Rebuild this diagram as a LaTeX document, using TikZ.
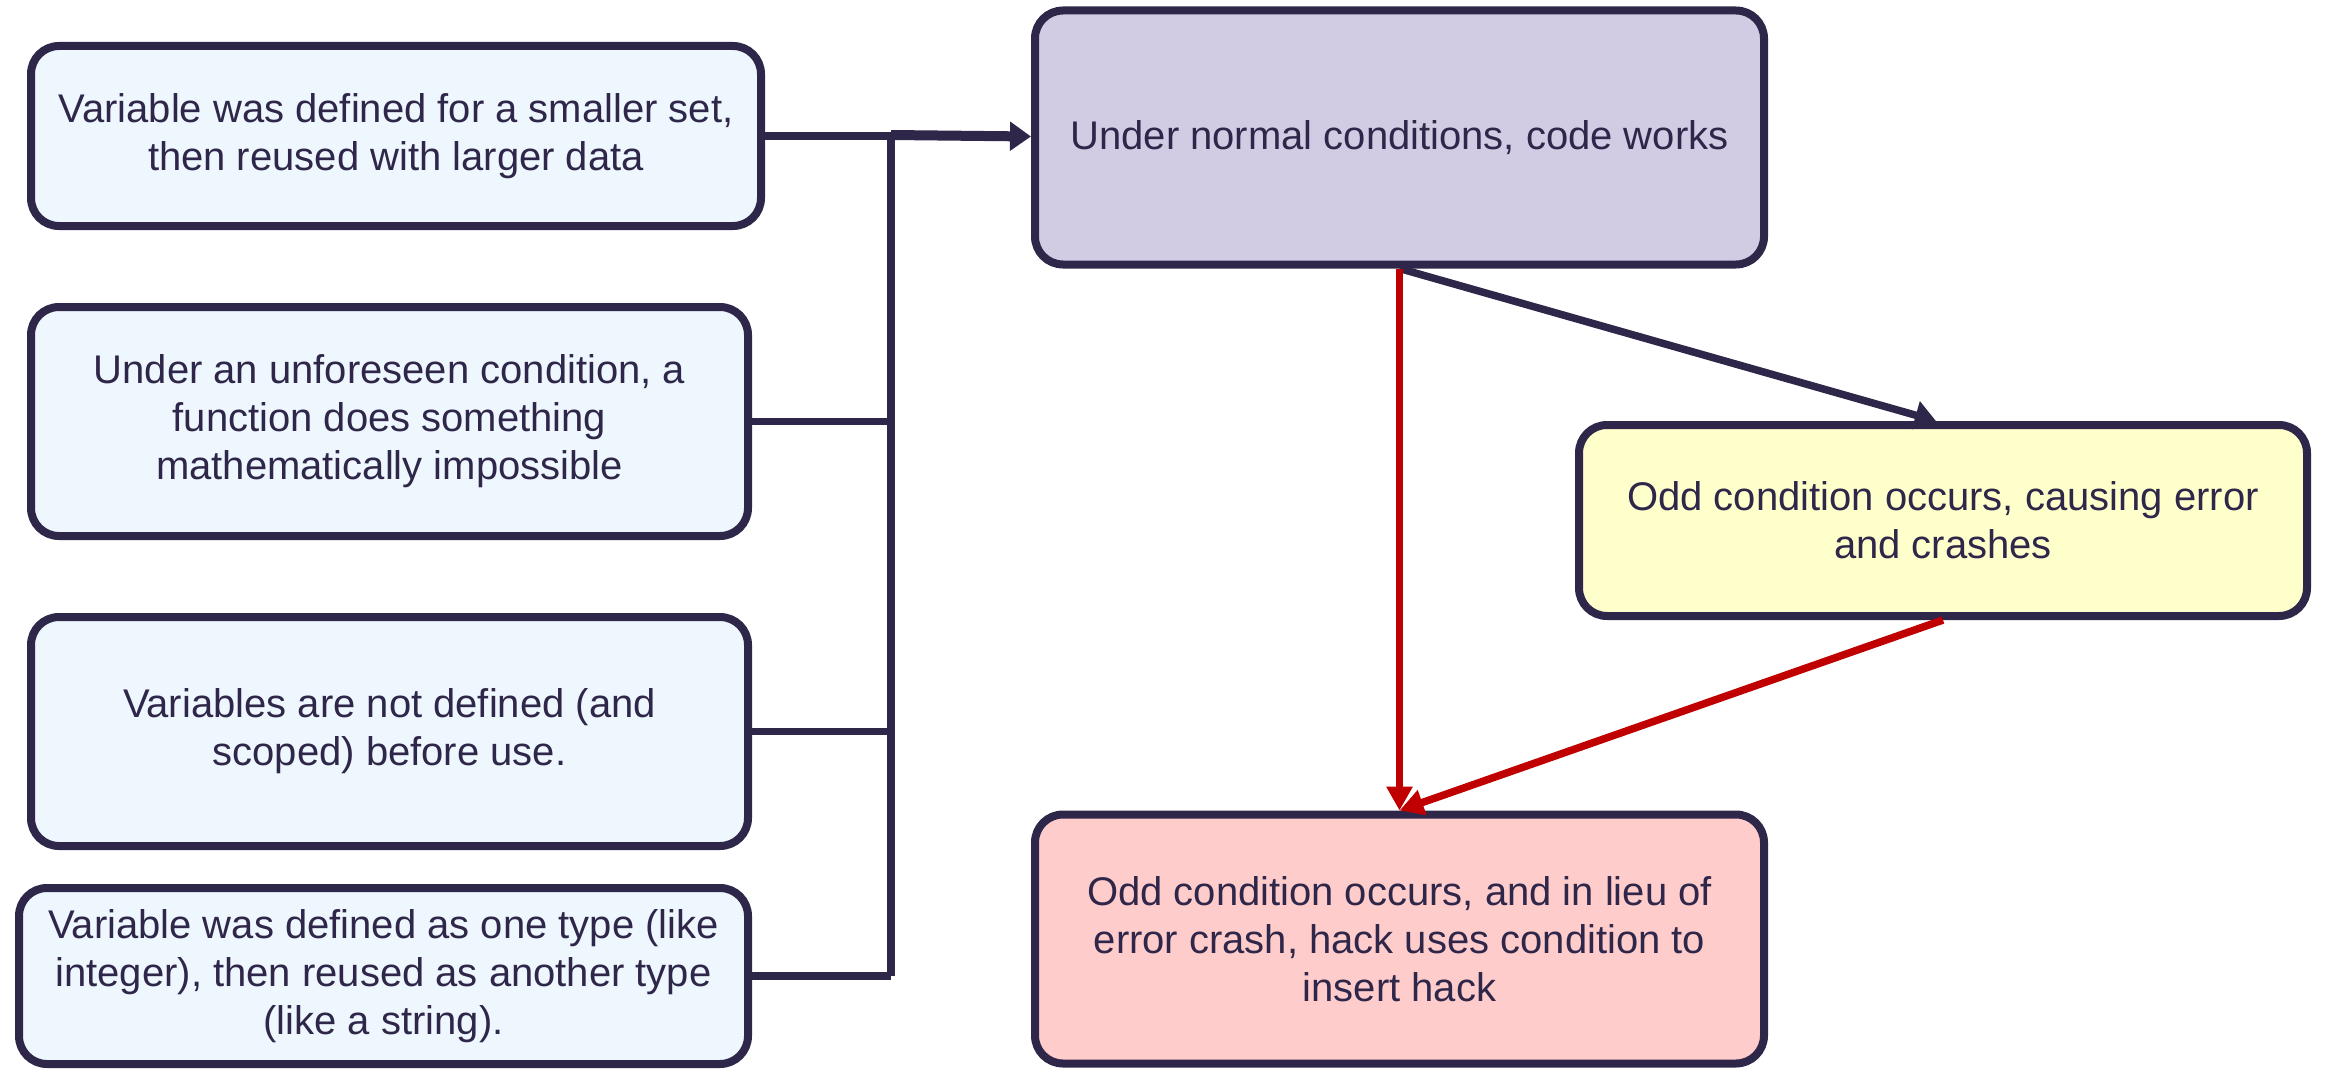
\documentclass[tikz,border=0pt]{standalone}
\usepackage{fontspec}
\setmainfont{Liberation Sans}
\usetikzlibrary{arrows.meta}
\definecolor{ink}{HTML}{2F2749}
\definecolor{causefill}{HTML}{EEF6FE}
\definecolor{normalfill}{HTML}{D1CCE3}
\definecolor{errfill}{HTML}{FFFFCC}
\definecolor{hackfill}{HTML}{FFCCCC}
\definecolor{alarm}{HTML}{C00000}
\begin{document}
\begin{tikzpicture}[x=1pt,y=-1pt,
  box/.style={draw=ink, line width=8pt, rounded corners=28pt, align=center,
    text=ink, inner sep=0pt, font=\fontsize{40}{48}\selectfont},
  conn/.style={draw=ink, line width=7.5pt},
  tip/.style={-{Triangle[length=21pt,width=28pt]}},
  redtip/.style={draw=alarm, line width=7.5pt, -{Triangle[length=24pt,width=25pt]}}]
\useasboundingbox (0,0) rectangle (2326,1070);

% causes on the left
\node[box, fill=causefill, minimum width=730pt, minimum height=180pt] (A) at (396,136)
  {Variable was defined for a smaller set,\\then reused with larger data};
\node[box, fill=causefill, minimum width=717pt, minimum height=229pt] (B) at (389.5,421.5)
  {Under an unforeseen condition, a\\function does something\\mathematically impossible};
\node[box, fill=causefill, minimum width=717pt, minimum height=229pt] (C) at (389.5,731.5)
  {Variables are not defined (and\\scoped) before use.};
\node[box, fill=causefill, minimum width=729pt, minimum height=176pt] (D) at (383.5,976)
  {Variable was defined as one type (like\\integer), then reused as another type\\(like a string).};

% outcomes on the right
\node[box, fill=normalfill, minimum width=729pt, minimum height=254pt] (main) at (1399.5,137.5)
  {Under normal conditions, code works};
\node[box, fill=errfill, minimum width=728pt, minimum height=191pt] (err) at (1943,520.5)
  {Odd condition occurs, causing error\\and crashes};
\node[box, fill=hackfill, minimum width=729pt, minimum height=249pt] (hack) at (1399.5,939)
  {Odd condition occurs, and in lieu of\\error crash, hack uses condition to\\insert hack};

% collecting bus
\coordinate (bus) at (891,136);
\draw[conn] (bus) -- (bus |- D.east);
\draw[conn] (B.east) -- (B.east -| bus);
\draw[conn] (C.east) -- (C.east -| bus);
\draw[conn] (D.east) -- (D.east -| bus);
\draw[conn] (A.east) -- (bus);
\draw[conn, line width=10pt, tip] ([yshift=1pt]bus) -- ([yshift=1pt]main.west);

% consequences
\draw[conn, tip] (main.south) -- ([xshift=-7pt]err.north);
\draw[redtip] (main.south) -- (hack.north);
\draw[redtip] (err.south) -- (hack.north);
\end{tikzpicture}
\end{document}
